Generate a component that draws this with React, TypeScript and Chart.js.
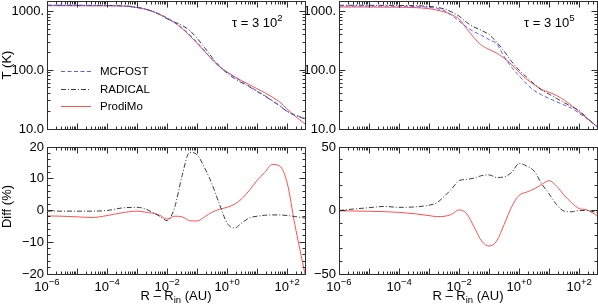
import React, { useEffect, useRef } from 'react';
import { Chart, registerables } from 'chart.js';

Chart.register(...registerables);

// R - R_in (AU)
const X_AU = [1e-6, 3.16e-6, 1e-5, 3.16e-5, 1e-4, 3.16e-4, 1e-3, 1.78e-3, 3.16e-3, 5.62e-3, 0.01, 0.0178, 0.0316, 0.0562, 0.1, 0.178, 0.316, 0.562, 1, 1.78, 3.16, 5.62, 10, 17.8, 31.6, 56.2, 100, 178, 390];

// tau = 3 10^2 : temperatures (K)
const T_MCFOST_TAU2 = [1270, 1270, 1268, 1265, 1258, 1240, 1160, 1100, 1010, 900, 775, 650, 520, 400, 295, 212, 152, 114, 92, 76, 63, 53, 44, 37, 30.5, 25, 20, 17.5, 15.2];
const T_RADICAL_TAU2 = [1267, 1267, 1265, 1262, 1258, 1250, 1172, 1107, 1005, 884, 750, 656, 577, 474, 347, 241, 164, 116, 88.5, 71.8, 60.6, 51.8, 43.2, 36.4, 30.1, 24.7, 19.7, 17.2, 14.8];
const T_PRODIMO_TAU2 = [1248, 1247, 1243, 1237, 1238, 1231, 1158, 1095, 1002, 887, 754, 638, 510, 387, 285, 208, 151, 114.5, 93, 77.5, 65.4, 56.4, 48.2, 41.4, 35, 28.8, 21.7, 16.7, 12.2];
// tau = 3 10^2 : differences (%)
const D_RADICAL_TAU2 = [-0.2, -0.2, -0.2, -0.2, 0, 0.8, 1.0, 0.6, -0.5, -1.8, -3.2, 1.0, 11, 18.3, 17.5, 13.4, 8.2, 1.8, -4, -5.5, -3.8, -2.3, -1.8, -1.5, -1.4, -1.4, -1.6, -1.9, -2.4];
const D_PRODIMO_TAU2 = [-1.7, -1.8, -2.0, -2.2, -1.6, -0.7, -0.2, -0.5, -0.8, -1.5, -2.7, -1.8, -2.0, -3.2, -3.3, -2.0, -0.5, 0.4, 1.0, 2.0, 3.8, 6.5, 9.5, 12, 14.5, 14.0, 8.6, -4.3, -20];

// tau = 3 10^5 : temperatures (K)
const T_MCFOST_TAU5 = [1235, 1235, 1233, 1230, 1225, 1210, 1170, 1120, 1030, 860, 680, 540, 450, 390, 330, 280, 170, 112, 80, 58, 45, 38, 33, 29, 25.5, 22.5, 18.5, 15, 11];
const T_RADICAL_TAU5 = [1268, 1268, 1267, 1265, 1260, 1250, 1215, 1175, 1100, 980, 830, 650, 540, 475, 400, 300, 210, 140, 100, 76, 58, 46, 39, 33, 28, 24, 20.5, 15.5, 11];
const T_PRODIMO_TAU5 = [1185, 1185, 1183, 1180, 1175, 1160, 1110, 1050, 980, 880, 740, 510, 355, 265, 225, 195, 160, 125, 92, 70, 57, 47, 42, 37, 31, 25, 19.5, 15.5, 11];
// tau = 3 10^5 : differences (%)
const D_RADICAL_TAU5 = [0, 1.2, 2.2, 3.2, 2.5, 2.8, 4.2, 6, 11, 17, 23.5, 24.5, 25.5, 27.5, 28, 26, 26.5, 30, 37, 35, 31, 21, 13, 4.5, -0.5, -1, 0, 0, -1.7];
const D_PRODIMO_TAU5 = [-0.3, -0.4, -0.6, -0.9, -1.5, -2.5, -4, -4.8, -4.6, -3, 0.5, -2.5, -13, -24, -28, -24, -11, 3, 12, 14.5, 17, 20.5, 23.5, 19, 12, 6, 1.5, 0.5, -4];

const SERIES_NAMES = ['MCFOST', 'RADICAL', 'ProdiMo'];
const SERIES_COLORS = ['#5a5aff', '#3c3c3c', '#ff5050'];
const SERIES_DASHES: number[][] = [[4, 2.5], [5, 2, 1, 2], []];

const T_TICK_VALUES = [10, 100, 1000];
const T_TICK_LABELS = ['10.0', '100.0', '1000.'];
const D_TAU2_TICK_VALUES = [-20, -10, 0, 10, 20];
const D_TAU2_TICK_LABELS = ['−20', '−10', '0', '10', '20'];
const D_TAU5_TICK_VALUES = [-50, 0, 50];
const D_TAU5_TICK_LABELS = ['−50', '0', '50'];
const X_TICK_VALUES = [1e-6, 1e-4, 1e-2, 1, 100];
const X_TICK_EXPONENTS = ['−6', '−4', '−2', '+0', '+2'];
const TAU_EXPONENTS = ['2', '5'];

const X_MIN = 1e-6;
const X_MAX = 390;

const FONT = '"Liberation Sans", Arial, Helvetica, sans-serif';
const W = 598;
const H = 304;
const FRAME = '#2e2e2e';

type Series = { name: string; values: number[]; color: string; dash: number[] };
type PanelDef = {
  area: [number, number, number, number];
  yAxisWidth: number;
  yType: 'logarithmic' | 'linear';
  yMin: number;
  yMax: number;
  yStep?: number;
  yMinorStep?: number;
  yTickValues: number[];
  yTickLabels: string[];
  series: Series[];
  xLabels: boolean;
  yTitle?: string;
  tauExp?: string;
  legend?: boolean;
};

function mkSeries(vals: number[][], idx: number[]): Series[] {
  return vals.map((v, i) => ({
    name: SERIES_NAMES[idx[i]],
    values: v,
    color: SERIES_COLORS[idx[i]],
    dash: SERIES_DASHES[idx[i]],
  }));
}

function logTicks(min: number, max: number) {
  const out: { v: number; major: boolean }[] = [];
  for (let e = Math.floor(Math.log10(min)); e <= Math.ceil(Math.log10(max)); e++) {
    for (let k = 1; k <= 9; k++) {
      const v = k * Math.pow(10, e);
      if (v >= min * 0.9999 && v <= max * 1.0001) out.push({ v, major: k === 1 });
    }
  }
  return out;
}

function linTicks(min: number, max: number, minor: number, majorVals: number[]) {
  const out: { v: number; major: boolean }[] = [];
  const n = Math.round((max - min) / minor);
  for (let i = 0; i <= n; i++) {
    const v = min + i * minor;
    out.push({ v, major: majorVals.some((m) => Math.abs(m - v) < 1e-9) });
  }
  return out;
}

type Part = { t: string; size: number; dy: number };
function drawRich(ctx: CanvasRenderingContext2D, parts: Part[], x: number, y: number, align: 'left' | 'center') {
  const widths = parts.map((p) => {
    ctx.font = `${p.size}px ${FONT}`;
    return ctx.measureText(p.t).width;
  });
  const total = widths.reduce((a, b) => a + b, 0);
  let cx = align === 'center' ? x - total / 2 : x;
  ctx.textAlign = 'left';
  ctx.textBaseline = 'alphabetic';
  parts.forEach((p, i) => {
    ctx.font = `${p.size}px ${FONT}`;
    ctx.fillText(p.t, cx, y + p.dy);
    cx += widths[i];
  });
}

function makeDecor(def: PanelDef) {
  const xt = logTicks(X_MIN, X_MAX);
  const yt =
    def.yType === 'logarithmic'
      ? logTicks(def.yMin, def.yMax)
      : linTicks(def.yMin, def.yMax, def.yMinorStep || 1, def.yTickValues);
  return {
    id: 'decor',
    afterDatasetsDraw(chart: any) {
      const ctx: CanvasRenderingContext2D = chart.ctx;
      const a = chart.chartArea;
      const xs = chart.scales.x;
      const ys = chart.scales.y;
      const left = Math.floor(a.left) + 0.5;
      const right = Math.floor(a.right) + 0.5;
      const top = Math.floor(a.top) + 0.5;
      const bottom = Math.floor(a.bottom) + 0.5;
      ctx.save();
      ctx.strokeStyle = FRAME;
      ctx.lineWidth = 1;
      ctx.setLineDash([]);
      ctx.strokeRect(left, top, right - left, bottom - top);
      ctx.beginPath();
      for (const t of xt) {
        const px = Math.floor(xs.getPixelForValue(t.v)) + 0.5;
        const len = t.major ? 6 : 3;
        ctx.moveTo(px, bottom);
        ctx.lineTo(px, bottom - len);
        ctx.moveTo(px, top);
        ctx.lineTo(px, top + len);
      }
      for (const t of yt) {
        const py = Math.floor(ys.getPixelForValue(t.v)) + 0.5;
        const len = t.major ? 6 : 3;
        ctx.moveTo(left, py);
        ctx.lineTo(left + len, py);
        ctx.moveTo(right, py);
        ctx.lineTo(right - len, py);
      }
      ctx.stroke();

      ctx.fillStyle = '#000';
      if (def.xLabels) {
        X_TICK_VALUES.forEach((v, i) => {
          const px = xs.getPixelForValue(v);
          drawRich(
            ctx,
            [
              { t: '10', size: 13, dy: 0 },
              { t: X_TICK_EXPONENTS[i], size: 9.5, dy: -6 },
            ],
            px,
            a.bottom + 17,
            'center'
          );
        });
        drawRich(
          ctx,
          [
            { t: 'R – R', size: 13, dy: 0 },
            { t: 'in', size: 9.5, dy: 3 },
            { t: ' (AU)', size: 13, dy: 0 },
          ],
          (a.left + a.right) / 2,
          300,
          'center'
        );
      }
      if (def.yTitle) {
        ctx.save();
        ctx.translate(10.5, (a.top + a.bottom) / 2 - (def.yType === 'linear' ? 4 : 0));
        ctx.rotate(-Math.PI / 2);
        ctx.font = `13px ${FONT}`;
        ctx.textAlign = 'center';
        ctx.textBaseline = 'alphabetic';
        ctx.fillText(def.yTitle, 0, 0);
        ctx.restore();
      }
      if (def.tauExp) {
        drawRich(
          ctx,
          [
            { t: 'τ = 3 10', size: 13, dy: 0 },
            { t: def.tauExp, size: 9.5, dy: -6 },
          ],
          a.right - 73,
          a.top + 26,
          'left'
        );
      }
      if (def.legend) {
        chart.data.datasets.forEach((ds: any, i: number) => {
          const y = Math.round(a.top + 70 + i * 17.5) + 0.5;
          ctx.beginPath();
          ctx.strokeStyle = ds.borderColor;
          ctx.setLineDash(ds.borderDash || []);
          ctx.lineWidth = 1;
          ctx.moveTo(a.left + 14, y);
          ctx.lineTo(a.left + 44, y);
          ctx.stroke();
          ctx.setLineDash([]);
          ctx.fillStyle = '#000';
          ctx.font = `11.5px ${FONT}`;
          ctx.textAlign = 'left';
          ctx.textBaseline = 'middle';
          ctx.fillText(ds.label, a.left + 53, y);
        });
      }
      ctx.restore();
    },
  };
}

function buildConfig(def: PanelDef): any {
  const [L, T, R, B] = def.area;
  const tickCallback = (value: any) => {
    const v = Number(value);
    const i = def.yTickValues.findIndex((t) => Math.abs(t - v) < 1e-6 * Math.max(1, Math.abs(t)));
    return i >= 0 ? def.yTickLabels[i] : '';
  };
  return {
    type: 'line',
    data: {
      datasets: def.series.map((s) => ({
        label: s.name,
        data: X_AU.map((x, i) => ({ x, y: s.values[i] })),
        borderColor: s.color,
        backgroundColor: s.color,
        borderDash: s.dash,
        borderWidth: 1,
        pointRadius: 0,
        fill: false,
        cubicInterpolationMode: 'monotone',
      })),
    },
    options: {
      responsive: false,
      animation: false,
      devicePixelRatio: 1,
      events: [],
      layout: {
        padding: { left: L - def.yAxisWidth, top: T, right: W - R, bottom: H - B },
      },
      plugins: {
        legend: { display: false },
        tooltip: { enabled: false },
        title: { display: false },
      },
      scales: {
        x: {
          type: 'logarithmic',
          min: X_MIN,
          max: X_MAX,
          display: false,
        },
        y: {
          type: def.yType,
          min: def.yMin,
          max: def.yMax,
          position: 'left',
          grid: { display: false, drawTicks: false },
          border: { display: false },
          ticks: {
            autoSkip: false,
            padding: 3,
            color: '#000',
            font: { family: FONT, size: 13 },
            callback: tickCallback,
            ...(def.yStep ? { stepSize: def.yStep } : {}),
          },
          afterFit: (s: any) => {
            s.width = def.yAxisWidth;
            s.paddingTop = 0;
            s.paddingBottom = 0;
          },
        },
      },
    },
    plugins: [makeDecor(def)],
  };
}

const PANELS: PanelDef[] = [
  {
    area: [47, 1, 305, 129],
    yAxisWidth: 47,
    yType: 'logarithmic',
    yMin: 10,
    yMax: 1500,
    yTickValues: T_TICK_VALUES,
    yTickLabels: T_TICK_LABELS,
    series: mkSeries([T_MCFOST_TAU2, T_RADICAL_TAU2, T_PRODIMO_TAU2], [0, 1, 2]),
    xLabels: false,
    yTitle: 'T (K)',
    tauExp: TAU_EXPONENTS[0],
    legend: true,
  },
  {
    area: [47, 147, 305, 274],
    yAxisWidth: 47,
    yType: 'linear',
    yMin: -20,
    yMax: 20,
    yStep: 10,
    yMinorStep: 2,
    yTickValues: D_TAU2_TICK_VALUES,
    yTickLabels: D_TAU2_TICK_LABELS,
    series: mkSeries([D_RADICAL_TAU2, D_PRODIMO_TAU2], [1, 2]),
    xLabels: true,
    yTitle: 'Diff (%)',
  },
  {
    area: [339, 1, 597, 129],
    yAxisWidth: 33,
    yType: 'logarithmic',
    yMin: 10,
    yMax: 1500,
    yTickValues: T_TICK_VALUES,
    yTickLabels: T_TICK_LABELS,
    series: mkSeries([T_MCFOST_TAU5, T_RADICAL_TAU5, T_PRODIMO_TAU5], [0, 1, 2]),
    xLabels: false,
    tauExp: TAU_EXPONENTS[1],
  },
  {
    area: [339, 147, 597, 274],
    yAxisWidth: 33,
    yType: 'linear',
    yMin: -50,
    yMax: 50,
    yStep: 50,
    yMinorStep: 10,
    yTickValues: D_TAU5_TICK_VALUES,
    yTickLabels: D_TAU5_TICK_LABELS,
    series: mkSeries([D_RADICAL_TAU5, D_PRODIMO_TAU5], [1, 2]),
    xLabels: true,
  },
];

function Panel({ def }: { def: PanelDef }) {
  const ref = useRef<HTMLCanvasElement>(null);
  useEffect(() => {
    if (!ref.current) return;
    const chart = new Chart(ref.current, buildConfig(def));
    return () => chart.destroy();
  }, [def]);
  return (
    <canvas
      ref={ref}
      width={W}
      height={H}
      style={{ position: 'absolute', left: 0, top: 0, width: W, height: H }}
    />
  );
}

export default function App() {
  return (
    <div
      style={{
        position: 'absolute',
        left: 0,
        top: 0,
        width: W,
        height: H,
        background: '#fff',
        overflow: 'hidden',
      }}
    >
      {PANELS.map((p, i) => (
        <Panel key={i} def={p} />
      ))}
    </div>
  );
}
